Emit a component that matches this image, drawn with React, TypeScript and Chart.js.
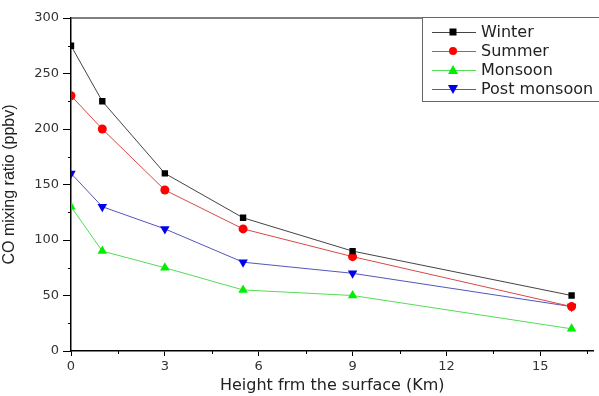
import React, { useEffect, useRef } from "react";
import { Chart, registerables } from "chart.js";
Chart.register(...registerables);

const heights = [0, 1, 3, 5.5, 9, 16];
const winter = [275, 225, 160, 120, 90, 50];
const summer = [230, 200, 145, 110, 85, 40];
const monsoon = [130, 90, 75, 55, 50, 20];
const postMonsoon = [160, 130, 110, 80, 70, 40];
const xTicks = [0, 3, 6, 9, 12, 15];
const xMinor = [1.5, 4.5, 7.5, 10.5, 13.5, 16.5];
const yTicks = [0, 50, 100, 150, 200, 250, 300];
const yMinor = [25, 75, 125, 175, 225, 275];
const seriesNames = ["Winter", "Summer", "Monsoon", "Post monsoon"];

const FONT = "'DejaVu Sans', sans-serif";
const FONT2 = "'Liberation Sans', Arial, sans-serif";

const framePlugin = {
  id: "frame",
  afterDraw(chart: any) {
    const ctx = chart.ctx;
    const { left, right, top, bottom } = chart.chartArea;
    const xs = chart.scales.x;
    const ys = chart.scales.y;
    ctx.save();
    ctx.strokeStyle = "#000";
    ctx.lineWidth = 1;
    // minor ticks
    ctx.beginPath();
    xMinor.forEach((v) => {
      const px = Math.round(xs.getPixelForValue(v)) + 0.5;
      ctx.moveTo(px, bottom);
      ctx.lineTo(px, bottom + 3);
    });
    yMinor.forEach((v) => {
      const py = Math.round(ys.getPixelForValue(v)) + 0.5;
      ctx.moveTo(left, py);
      ctx.lineTo(left - 3, py);
    });
    ctx.stroke();
    // top frame
    ctx.strokeStyle = "#555";
    ctx.lineWidth = 1.5;
    ctx.beginPath();
    ctx.moveTo(left, top);
    ctx.lineTo(right, top);
    ctx.stroke();
    // legend
    const lx = 422, ly = 17, lw = 200, lh = 84;
    ctx.fillStyle = "#fff";
    ctx.fillRect(lx, ly, lw, lh);
    ctx.strokeStyle = "#666";
    ctx.lineWidth = 1;
    ctx.strokeRect(lx + 0.5, ly + 0.5, lw, lh);
    ctx.font = "16px " + FONT;
    ctx.textBaseline = "middle";
    chart.data.datasets.forEach((ds: any, i: number) => {
      const cy = ly + 15 + i * 19;
      ctx.strokeStyle = ds.borderColor;
      ctx.lineWidth = 1;
      ctx.beginPath();
      ctx.moveTo(lx + 10, cy + 0.5);
      ctx.lineTo(lx + 54, cy + 0.5);
      ctx.stroke();
      ctx.fillStyle = ds.pointBackgroundColor;
      const mx = lx + 31;
      const r = 4;
      ctx.beginPath();
      if (ds.pointStyle === "rect") {
        ctx.fillRect(mx - 3.5, cy - 3.5, 7, 7);
      } else if (ds.pointStyle === "circle") {
        ctx.arc(mx, cy, r, 0, Math.PI * 2);
        ctx.fill();
      } else if (ds.pointRotation === 180) {
        ctx.moveTo(mx - 5, cy - 4);
        ctx.lineTo(mx + 5, cy - 4);
        ctx.lineTo(mx, cy + 5);
        ctx.closePath();
        ctx.fill();
      } else {
        ctx.moveTo(mx - 5, cy + 4);
        ctx.lineTo(mx + 5, cy + 4);
        ctx.lineTo(mx, cy - 5);
        ctx.closePath();
        ctx.fill();
      }
      ctx.fillStyle = "#222";
      ctx.textAlign = "left";
      ctx.fillText(seriesNames[i], lx + 59, cy + 1);
    });
    ctx.restore();
  },
};

export default function App() {
  const ref = useRef<HTMLCanvasElement>(null);
  useEffect(() => {
    document.body.style.margin = "0";
    const mk = (i: number, data: number[], line: string, fill: string, style: string, radius: number, rot = 0) => ({
      label: seriesNames[i],
      data: heights.map((h, j) => ({ x: h, y: data[j] })),
      borderColor: line,
      borderWidth: 1,
      backgroundColor: fill,
      pointBackgroundColor: fill,
      pointBorderColor: fill,
      pointBorderWidth: 0,
      pointStyle: style,
      pointRadius: radius,
      pointRotation: rot,
      tension: 0,
    });
    const chart = new Chart(ref.current!, {
      type: "line",
      data: {
        datasets: [
          mk(0, winter, "#444444", "#000000", "rect", 4.5),
          mk(1, summer, "#d84848", "#ff0000", "circle", 4.5),
          mk(2, monsoon, "#55dd55", "#00ee00", "triangle", 5.5),
          mk(3, postMonsoon, "#5555bb", "#0000ee", "triangle", 5.5, 180),
        ] as any,
      },
      options: {
        animation: false,
        responsive: false,
        maintainAspectRatio: false,
        layout: { padding: { top: 18, right: 0, left: 0, bottom: 0 } },
        plugins: { legend: { display: false }, tooltip: { enabled: false } },
        scales: {
          x: {
            type: "linear",
            min: 0,
            max: 16.7,
            afterBuildTicks: (s: any) => {
              s.ticks = xTicks.map((v) => ({ value: v }));
            },
            afterFit: (s: any) => {
              s.height = 45;
            },
            grid: { drawOnChartArea: false, color: "#000", tickLength: 5 },
            border: { color: "#000", width: 1.5 },
            ticks: { color: "#333", font: { family: FONT, size: 13 }, padding: 3, maxRotation: 0 },
            title: {
              display: true,
              text: "Height frm the surface (Km)",
              color: "#222",
              font: { family: FONT, size: 16 },
              padding: { top: 0, bottom: 1 },
            },
          },
          y: {
            type: "linear",
            min: 0,
            max: 300,
            afterBuildTicks: (s: any) => {
              s.ticks = yTicks.map((v) => ({ value: v }));
            },
            afterFit: (s: any) => {
              s.width = 71;
            },
            grid: { drawOnChartArea: false, color: "#000", tickLength: 8 },
            border: { color: "#000", width: 1.5 },
            ticks: { color: "#333", font: { family: FONT, size: 13 }, padding: 4 },
            title: {
              display: true,
              text: "CO mixing ratio (ppbv)",
              color: "#222",
              font: { family: FONT2, size: 16 },
              padding: { top: 0, bottom: 2 },
            },
          },
        },
      },
      plugins: [framePlugin],
    });
    return () => chart.destroy();
  }, []);
  return <canvas ref={ref} width={599} height={396} style={{ display: "block" }} />;
}
